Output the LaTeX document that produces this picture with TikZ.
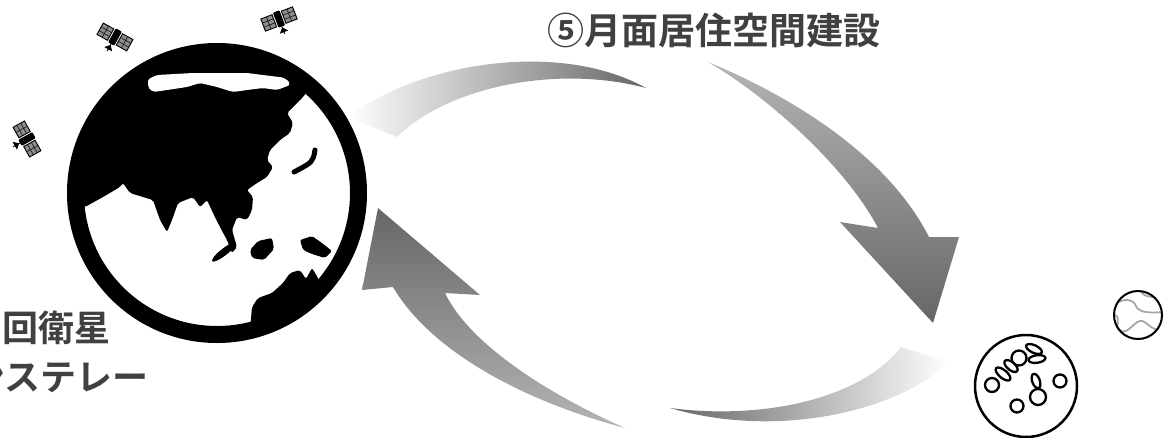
\documentclass[tikz,border=0pt]{standalone}
\usepackage{fontspec}
\newfontfamily\jpfont{Noto Sans CJK JP}[BoldFont={Noto Sans CJK JP Bold}]
\usetikzlibrary{positioning}

\definecolor{ink}{HTML}{404040}
\definecolor{arrowdark}{HTML}{666666}
\definecolor{arrowlight}{HTML}{B4B4B4}
\definecolor{panelgray}{HTML}{8C8C8C}
\definecolor{mapgray}{HTML}{A6A6A6}

\tikzset{
  satellite/.pic={
    % solar panels
    \foreach \s in {-1,1}{
      \fill[panelgray] (\s*5,-6.5) rectangle (\s*17,6.5);
      \draw[line width=0.9pt] (\s*5,-6.5) rectangle (\s*17,6.5);
      \draw[line width=0.5pt] (\s*11,-6.5) -- (\s*11,6.5)
        (\s*5,-2.2) -- (\s*17,-2.2) (\s*5,2.2) -- (\s*17,2.2);
    }
    % body and dish
    \fill[rounded corners=1pt] (-3.5,-8) rectangle (3.5,8);
    \fill (-4.5,14) -- (4.5,14) -- (0,9) -- cycle;
    \draw[line width=0.9pt] (0,8) -- (0,16);
  }
}

\begin{document}
\begin{tikzpicture}[
    x=1pt, y=-1pt,
    jptext/.style={
      inner sep=0pt,
      text=ink,
      font=\jpfont\bfseries\fontsize{36}{40}\selectfont
    },
    jptitle/.style={jptext, font=\jpfont\bfseries\fontsize{37}{40}\selectfont},
    crater/.style={line width=2.3pt}
  ]
  \useasboundingbox (0,0) rectangle (1175,437);
  \clip (0,0) rectangle (1175,437);

  % Cycle arrows
  \shade[left color=white, middle color=arrowdark!80!white, right color=arrowdark]
    (348,117) .. controls (420,62) and (560,40) .. (646,88)
    .. controls (560,65) and (450,85) .. (397,137) -- cycle;
  \shade[top color=arrowlight, bottom color=arrowdark]
    (708,62) .. controls (800,100) and (890,160) .. (929,237)
    -- (959,237) -- (933,323) -- (840,222) -- (878,228)
    .. controls (845,165) and (765,95) .. (708,62) -- cycle;
  \shade[left color=arrowdark, middle color=arrowdark!90!white, right color=white]
    (949,362) .. controls (900,410) and (780,440) .. (670,408)
    .. controls (760,420) and (860,400) .. (901,347) -- cycle;
  \shade[top color=arrowdark, bottom color=arrowlight]
    (378,208) -- (362,290) -- (393,287)
    .. controls (430,350) and (520,400) .. (625,428)
    .. controls (550,395) and (470,345) .. (445,293)
    -- (480,295) -- cycle;

  % Earth
  \begin{scope}
    \clip (217,193) circle (134pt);
    \fill[rounded corners=2pt] (60,207) -- (85,207) -- (103,197) -- (120,187)
      -- (123,183) -- (130,193) -- (143,197) -- (153,200) -- (160,220)
      -- (167,232) -- (172,220) -- (178,203) -- (193,197) -- (200,207)
      -- (207,200) -- (213,213) -- (220,227) -- (227,240) -- (232,253)
      -- (237,247) -- (232,230) -- (237,217) -- (247,220) -- (252,210)
      -- (253,197) -- (247,190) -- (257,183) -- (267,177) -- (273,167)
      -- (267,160) -- (270,150) -- (280,140) -- (290,133) -- (293,123)
      -- (287,113) -- (293,107) -- (303,97) -- (310,88) -- (330,60)
      -- (330,30) -- (60,30) -- cycle;
    \fill[white, rounded corners=2pt] (148,79) -- (157,75) -- (193,73)
      -- (247,73) -- (287,78) -- (290,85) -- (277,90) -- (263,88)
      -- (247,90) -- (233,92) -- (217,87) -- (200,83) -- (187,87)
      -- (167,90) -- (153,92) -- (148,87) -- cycle;
    \draw[line width=5pt, line cap=round] (315,150) .. controls (313,162) .. (294,172);
    \fill[rotate around={38:(224,252)}] (224,252) ellipse [x radius=15pt, y radius=3.5pt];
    \fill[rounded corners=2pt] (250,250) -- (258,241) -- (272,238) -- (274,249)
      -- (264,260) -- (252,258) -- cycle;
    \fill[rounded corners=2pt] (300,240) -- (312,236) -- (322,243) -- (332,251)
      -- (325,258) -- (312,254) -- (303,250) -- cycle;
    \fill[rounded corners=2pt] (250,330) -- (252,307) -- (258,298) -- (272,293)
      -- (283,283) -- (290,273) -- (300,270) -- (306,279) -- (312,268)
      -- (318,278) -- (322,290) -- (340,300) -- (350,330) -- (300,360) -- cycle;
  \end{scope}
  \draw[line width=17pt] (217,193) circle (141.5pt);

  % Satellites
  \pic[rotate=-29] at (115,37) {satellite};
  \pic[rotate=21] at (279,19) {satellite};
  \pic[rotate=-61] at (27,139) {satellite};

  % Moon
  \draw[line width=2.5pt] (1026,386) circle (51pt);
  \draw[crater] (992,385) circle (7pt);
  \draw[crater, rotate around={-40:(1003,374)}] (1003,374) ellipse [x radius=9pt, y radius=4pt];
  \draw[crater, rotate around={-40:(1011,366)}] (1011,366) ellipse [x radius=8pt, y radius=4pt];
  \draw[crater] (1019,358) circle (7.5pt);
  \draw[crater, rotate around={-25:(1034,349)}] (1034,349) ellipse [x radius=8.5pt, y radius=3.8pt];
  \draw[crater, rotate around={8:(1037,359)}] (1037,359) ellipse [x radius=8.5pt, y radius=3.8pt];
  \draw[crater, rotate around={20:(1036,381)}] (1036,381) ellipse [x radius=3.8pt, y radius=7.5pt];
  \draw[crater] (1038,397) circle (8pt);
  \draw[crater] (1017,406) circle (6.5pt);
  \draw[crater] (1060,381) circle (6.5pt);

  % Small planet
  \begin{scope}
    \clip (1138,315) circle (24pt);
    \draw[mapgray, line width=1.8pt] (1112,306) .. controls (1122,298) and (1133,298)
      .. (1136,306) .. controls (1139,313) and (1150,313) .. (1164,312);
    \draw[mapgray, line width=1.8pt] (1140,290) .. controls (1142,296) and (1150,298) .. (1164,297);
    \draw[mapgray, line width=1.8pt] (1113,314) .. controls (1124,318) and (1112,326)
      .. (1121,331) .. controls (1128,334) and (1134,322) .. (1140,321)
      .. controls (1147,320) and (1150,331) .. (1162,330);
  \end{scope}
  \draw[line width=2pt] (1138,315) circle (24pt);

  % Labels
  \node[jptitle, anchor=west] (habitat) at (547,30) {⑤月面居住空間建設};
  \node[jptext, anchor=east] (orbitA) at (111,328) {回衛星};
  \node[jptext, anchor=east] (orbitB) at (149,378) {ンステレー};
\end{tikzpicture}
\end{document}
